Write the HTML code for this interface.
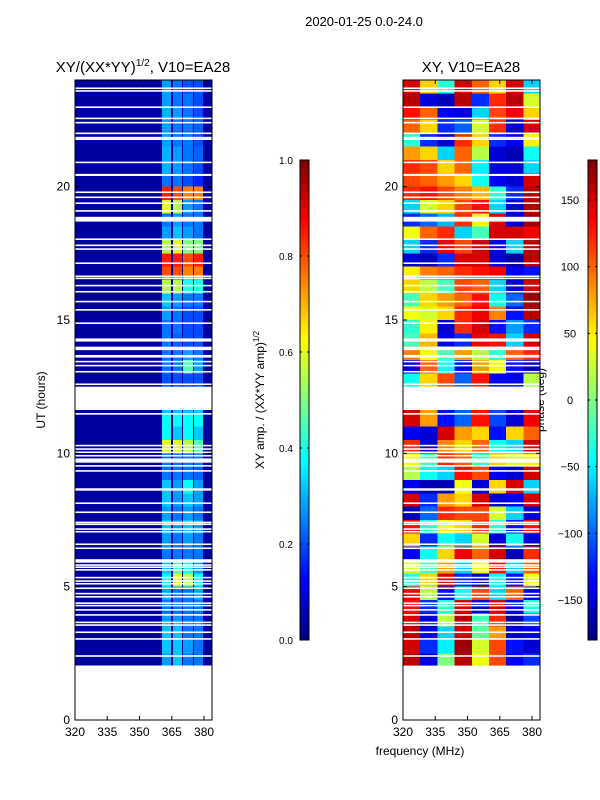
<!DOCTYPE html>
<html><head><meta charset="utf-8"><style>
body{margin:0;background:#fff;}
svg{display:block;font-family:"Liberation Sans",sans-serif;}
</style></head><body>
<svg id="fig" width="600" height="800" viewBox="0 0 600 800">
<text x="364" y="26" font-size="13" text-anchor="middle">2020-01-25 0.0-24.0</text>
<text x="143" y="72" font-size="15" text-anchor="middle">XY/(XX*YY)<tspan font-size="10" dy="-6">1/2</tspan><tspan dy="6">, V10=EA28</tspan></text>
<text x="471" y="72" font-size="15" text-anchor="middle">XY, V10=EA28</text>
<text x="420" y="755" font-size="12" text-anchor="middle">frequency (MHz)</text>
<text transform="translate(45,400) rotate(-90)" font-size="12" text-anchor="middle">UT (hours)</text>
<text transform="translate(264,400) rotate(-90)" font-size="12" text-anchor="middle">XY amp. / (XX*YY amp)<tspan font-size="8" dy="-5">1/2</tspan></text>
<text transform="translate(544,400) rotate(-90)" font-size="12" text-anchor="middle">phase (deg)</text>
<g id="amp"></g>
<g id="phs"></g>
<g id="axes"></g>
</svg>
<script>
const ampBandLo=[360.5,365.6,370.2,375.3];
const ampBandHi=[364.6,369.8,374.9,379.5];
const ampBackground=0.03;
const rowHours=[23.5,23,22.5,22,21.5,21,20.5,20,19.5,19,18.5,18,17.5,17,16.5,16,15.5,15,14.5,14,13.5,13,12.5,12,11.5,11,10.5,10,9.5,9,8.5,8,7.5,7,6.5,6,5.5,5,4.5,4,3.5,3,2.5,2];
const ampRows=[
[0.28,0.24,0.2,0.2],[0.28,0.24,0.24,0.2],[0.3,0.28,0.24,0.2],[0.28,0.24,0.24,0.22],
[0.28,0.24,0.24,0.2],[0.3,0.28,0.24,0.22],[0.3,0.28,0.24,0.2],[0.24,0.24,0.2,0.16],
[0.85,0.8,0.75,0.75],[0.6,0.55,0.28,0.24],[0.24,0.28,0.24,0.24],[0.28,0.32,0.28,0.24],
[0.55,0.6,0.5,0.5],[0.85,0.85,0.8,0.85],[0.8,0.8,0.75,0.75],[0.55,0.55,0.4,0.4],
[0.32,0.28,0.24,0.24],[0.28,0.24,0.2,0.2],[0.24,0.24,0.2,0.2],[0.24,0.22,0.2,0.2],
[0.24,0.24,0.28,0.24],[0.24,0.24,0.45,0.28],[0.2,0.2,0.2,0.2],[0.2,0.2,0.2,0.2],
[0.32,0.32,0.32,0.32],[0.38,0.38,0.38,0.38],[0.38,0.32,0.38,0.32],[0.6,0.6,0.55,0.45],
[0.24,0.24,0.24,0.24],[0.24,0.24,0.24,0.22],[0.32,0.28,0.38,0.28],[0.32,0.28,0.32,0.28],
[0.28,0.24,0.28,0.24],[0.32,0.28,0.32,0.28],[0.28,0.24,0.28,0.24],[0.24,0.24,0.24,0.24],
[0.32,0.45,0.38,0.28],[0.38,0.6,0.55,0.38],[0.28,0.24,0.24,0.28],[0.24,0.24,0.24,0.24],
[0.28,0.28,0.24,0.24],[0.32,0.32,0.24,0.24],[0.32,0.32,0.28,0.24],[0.28,0.32,0.24,0.24]];
const phaseBinLo=[320,328,336,344,352,360,368,376];
const phaseRows=[
[150,60,-30,150,100,60,150,-60],[160,-150,-160,160,-120,120,160,30],[130,100,-140,-150,-60,110,140,60],[100,60,-120,-100,30,120,-150,150],
[-30,-120,-150,120,60,-120,-140,50],[80,60,-60,100,20,-150,-160,-40],[120,110,60,100,-50,-150,-150,-60],[110,100,80,60,-40,-140,-150,150],
[120,130,110,90,70,-30,-120,160],[-60,30,60,110,130,-60,-150,160],[-120,-100,-70,120,40,150,-150,170],[40,100,120,-60,-20,150,150,140],
[-60,-120,140,110,150,-140,-60,160],[-150,-160,-120,150,150,-150,-170,160],[50,90,100,120,130,140,-140,-130],[60,20,-20,110,100,-60,-150,150],
[-20,60,80,100,130,-40,-100,170],[40,30,60,120,140,90,-130,160],[-30,50,-150,120,150,-130,-80,-120],[-20,70,-140,-120,140,130,-60,150],
[90,40,-20,80,20,-30,100,120],[-150,100,-40,-140,80,40,-130,-160],[-40,60,110,-100,130,-140,-140,20],[0,0,0,0,0,0,0,0],
[150,80,-130,-100,130,-110,-150,140],[150,80,-130,-100,130,-110,-150,140],[-140,-150,150,80,60,-130,60,100],[120,-150,90,60,100,-40,-60,150],
[40,-20,120,100,-30,60,30,50],[20,-40,-60,130,110,-140,-150,150],[-140,-160,-160,40,-150,60,150,-60],[150,-120,80,60,150,-150,-140,150],
[-160,-100,120,110,110,30,-60,-150],[130,-30,40,60,120,-30,-130,130],[60,-120,-40,-60,30,-150,-40,-150],[-140,-40,60,140,100,150,-160,120],
[30,-20,80,-60,40,130,-60,100],[-30,60,150,-120,-150,-40,-130,40],[140,20,-130,-40,110,-60,100,-140],[130,-120,-30,150,-150,150,-140,-30],
[150,-150,20,160,-20,120,-170,-110],[160,-140,-60,150,-10,80,-150,-140],[150,-120,-50,170,30,110,-130,-150],[160,-150,0,160,40,110,-140,-120]];
const flagStart=[0,23.66,23.56,22.95,22.53,22.37,21.97,21.81,21.75,20.88,20.40,19.76,19.57,19.35,19.06,18.69,18.00,17.77,17.63,17.10,16.61,16.53,16.26,16.03,15.66,15.35,14.85,14.19,13.87,13.59,13.41,13.26,13.03,12.56,11.625,11.45,10.26,10.13,10.01,9.88,9.65,9.50,9.31,8.60,8.10,7.76,7.38,7.31,7.13,7.03,6.56,6.41,5.90,5.78,5.70,5.60,5.31,5.18,5.08,4.91,4.71,4.59,4.35,4.26,4.10,3.91,3.63,3.53,3.26,3.01,2.37];
const flagEnd=[2.04,23.72,23.62,23.01,22.59,22.43,22.03,21.87,21.81,20.94,20.48,19.82,19.63,19.41,19.12,18.87,18.06,17.83,17.69,17.16,16.67,16.59,16.32,16.09,15.72,15.41,14.91,14.31,14.00,13.69,13.47,13.32,13.09,12.62,12.5,11.51,10.32,10.19,10.07,9.94,9.81,9.56,9.37,8.69,8.16,7.82,7.44,7.37,7.19,7.09,6.62,6.47,6.03,5.84,5.76,5.66,5.37,5.24,5.14,4.97,4.77,4.65,4.41,4.32,4.16,3.97,3.69,3.59,3.32,3.07,2.43];
const xTicks=[320,335,350,365,380];
const yTicks=[0,5,10,15,20];
const ampCbTicks=[0,0.2,0.4,0.6,0.8,1.0];
const phaseCbTicks=[-150,-100,-50,0,50,100,150];

const NS='http://www.w3.org/2000/svg';
function jet(v){v=Math.max(0,Math.min(1,v));
 const r=Math.max(0,Math.min(1,1.5-Math.abs(4*v-3)));
 const g=Math.max(0,Math.min(1,1.5-Math.abs(4*v-2)));
 const b=Math.max(0,Math.min(1,1.5-Math.abs(4*v-1)));
 return `rgb(${Math.round(r*255)},${Math.round(g*255)},${Math.round(b*255)})`;}
function mk(parent,tag,attrs){const e=document.createElementNS(NS,tag);for(const k in attrs)e.setAttribute(k,attrs[k]);parent.appendChild(e);return e;}
const F0=320,F1=383.7,H0=0,H1=24;
function xs(left,right){return f=>left+(f-F0)/(F1-F0)*(right-left);}
const yH=h=>720-(h-H0)/(H1-H0)*640;
const xA=xs(75,212), xP=xs(403,540);
const amp=document.getElementById('amp'), phs=document.getElementById('phs'), axes=document.getElementById('axes');

rowHours.forEach((h,i)=>{
 const y0=yH(h+0.5), y1=yH(Math.max(h,2.04));
 let r=mk(amp,'rect',{x:xA(F0),y:y0,width:xA(F1)-xA(F0),height:y1-y0,fill:jet(ampBackground),'shape-rendering':'crispEdges'});
 
 
 ampRows[i].forEach((v,j)=>{
  const c=mk(amp,'rect',{x:xA(ampBandLo[j]),y:y0,width:xA(ampBandHi[j])-xA(ampBandLo[j]),height:y1-y0,fill:jet(v),'shape-rendering':'crispEdges'});
  
  
 });
 phaseRows[i].forEach((v,j)=>{
  const lo=phaseBinLo[j], hi=j+1<phaseBinLo.length?phaseBinLo[j+1]:F1;
  const c=mk(phs,'rect',{x:xP(lo),y:y0,width:xP(hi)-xP(lo)+0.5,height:y1-y0+0.5,fill:jet((v+180)/360),'shape-rendering':'crispEdges'});
  
  
 });
});
[[xA,amp],[xP,phs]].forEach(([X,g])=>{
 flagStart.forEach((s,k)=>{
  const f=mk(g,'rect',{x:X(F0),y:yH(flagEnd[k]),width:X(F1)-X(F0),height:Math.max(1.2,yH(s)-yH(flagEnd[k])),fill:'#fff'});
  
  
 });
});
[[75,xA],[403,xP]].forEach(([left,X],pi)=>{
 const fr=mk(axes,'rect',{x:left,y:80,width:137,height:640,fill:'none',stroke:'#000','stroke-width':1});
 
 
 xTicks.forEach(t=>{
  mk(axes,'line',{x1:X(t),x2:X(t),y1:720,y2:716,stroke:'#000'});
  mk(axes,'line',{x1:X(t),x2:X(t),y1:80,y2:84,stroke:'#000'});
  const l=mk(axes,'text',{x:X(t),y:736,'font-size':12,'text-anchor':'middle'});l.textContent=t;
  
  
 });
 yTicks.forEach(t=>{
  mk(axes,'line',{x1:left,x2:left+4,y1:yH(t),y2:yH(t),stroke:'#000'});
  mk(axes,'line',{x1:left+137,x2:left+133,y1:yH(t),y2:yH(t),stroke:'#000'});
  const l=mk(axes,'text',{x:left-5,y:yH(t)+4,'font-size':12,'text-anchor':'end'});l.textContent=t;
  
  
 });
});
function colorbar(x,lo,hi,ticks,fmt,name,labelX,fs){
 const g=mk(axes,'g',{});
 
 
 for(let i=0;i<120;i++){mk(g,'rect',{x:x,y:640-(i+1)*4,width:9,height:4.3,fill:jet((i+0.5)/120),'shape-rendering':'crispEdges'});}
 mk(g,'rect',{x:x,y:160,width:9,height:480,fill:'none',stroke:'#000'});
 ticks.forEach(t=>{const y=640-(t-lo)/(hi-lo)*480;
  mk(g,'line',{x1:x,x2:x+2,y1:y,y2:y,stroke:'#000'});mk(g,'line',{x1:x+9,x2:x+7,y1:y,y2:y,stroke:'#000'});
  const l=mk(g,'text',{x:labelX,y:y+4,'font-size':fs,'text-anchor':'middle'});
  l.textContent=fmt(t);
  
  });
}
colorbar(300,0,1,ampCbTicks,t=>t.toFixed(1),'amp-colorbar',286,10);
colorbar(588,-180,180,phaseCbTicks,t=>String(t).replace('-','\u2212'),'phase-colorbar',570,11);
</script>
</body></html>
